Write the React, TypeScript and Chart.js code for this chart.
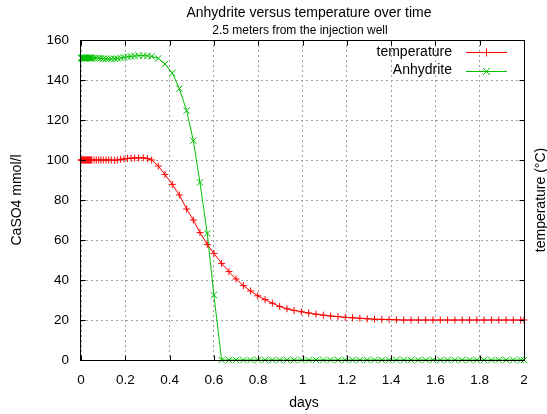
import React, { useEffect, useRef } from "react";
import { Chart, registerables } from "chart.js";

Chart.register(...registerables);

const TITLE = "Anhydrite versus temperature over time";
const SUBTITLE = "2.5 meters from the injection well";
const X_LABEL = "days";
const Y_LABEL = "CaSO4 mmol/l";
const Y2_LABEL = "temperature (°C)";
const SERIES_NAMES = ["temperature", "Anhydrite"];

const days = [
  0, 0.003, 0.006, 0.009, 0.012, 0.015, 0.018, 0.021, 0.024, 0.027, 0.03, 0.033, 0.036, 0.039, 0.042, 0.045, 0.048,
  0.059, 0.069, 0.08, 0.09, 0.101, 0.113, 0.125, 0.137, 0.152, 0.164, 0.179, 0.194, 0.21, 0.226, 0.242, 0.26, 0.281, 0.3, 0.319,
  0.349, 0.379, 0.412, 0.444, 0.477, 0.507, 0.537, 0.57, 0.6,
  0.635, 0.668, 0.7, 0.733, 0.766, 0.798, 0.831, 0.864, 0.897, 0.93,
  0.962, 0.995, 1.028, 1.061, 1.094, 1.127, 1.16, 1.193, 1.226, 1.259,
  1.292, 1.325, 1.358, 1.391, 1.424, 1.457, 1.49, 1.523, 1.556, 1.589,
  1.622, 1.655, 1.688, 1.721, 1.754, 1.787, 1.82, 1.853, 1.886, 1.919,
  1.952, 1.985, 2.0,
];

const temperature = [
  100, 100, 100, 100, 100, 100, 100, 100, 100, 100, 100, 100, 100, 100, 100, 100, 100,
  100, 100, 100, 100, 100, 100, 100, 100, 99.8, 100, 100.3, 100.5, 100.8, 100.9, 101, 101, 101.1, 100.7, 100,
  97, 92.8, 87.8, 82.5, 75.5, 70, 63.7, 57.8, 53.3,
  48.3, 44.2, 40.5, 37.2, 34.5, 32.1, 30.2, 28.4, 26.8, 25.6,
  24.8, 24.1, 23.5, 22.9, 22.4, 22, 21.7, 21.3, 21.1, 20.9,
  20.6, 20.4, 20.3, 20.3, 20.1, 20, 20, 20, 20, 20,
  20, 20, 20, 20, 20, 20, 20, 20, 20, 20,
  20, 20, 20,
];

const anhydrite = [
  151, 151, 151, 151, 151, 151, 151, 151, 151, 151, 151, 151, 151, 151, 151, 151, 151,
  151, 151, 150.9, 150.8, 150.7, 150.6, 150.5, 150.5, 150.6, 150.8, 151, 151.3, 151.6, 151.8, 152, 152.2, 152.2, 152.1, 151.8,
  150.8, 148, 143.5, 135.7, 124.7, 109.7, 88.8, 63.3, 32.5,
  0, 0, 0, 0, 0, 0, 0, 0, 0, 0,
  0, 0, 0, 0, 0, 0, 0, 0, 0, 0,
  0, 0, 0, 0, 0, 0, 0, 0, 0, 0,
  0, 0, 0, 0, 0, 0, 0, 0, 0, 0,
  0, 0, 0,
];

const X_MIN = 0;
const X_MAX = 2;
const X_STEP = 0.2;
const Y_MIN = 0;
const Y_MAX = 160;
const Y_STEP = 20;

const RED = "#ff0000";
const GREEN = "#00c000";
const GRID = "#a0a0a0";
const FONT = "'Liberation Sans', Arial, sans-serif";

const overlayPlugin = {
  id: "overlay",
  afterDraw(chart: any) {
    const { ctx, chartArea: a, scales } = chart;
    ctx.save();
    // border
    ctx.strokeStyle = "#000";
    ctx.lineWidth = 1;
    ctx.setLineDash([]);
    const L = Math.round(a.left) - 0.5;
    const R = Math.round(a.right) + 0.5;
    const T = Math.round(a.top) + 0.5;
    const B = Math.round(a.bottom) + 0.5;
    ctx.strokeRect(L, T, R - L, B - T);
    // inward ticks
    ctx.beginPath();
    scales.x.ticks.forEach((t: any) => {
      const px = Math.round(scales.x.getPixelForValue(t.value)) + 0.5;
      ctx.moveTo(px, B);
      ctx.lineTo(px, B - 5);
      ctx.moveTo(px, T);
      ctx.lineTo(px, T + 5);
    });
    scales.y.ticks.forEach((t: any) => {
      const py = Math.round(scales.y.getPixelForValue(t.value)) + 0.5;
      ctx.moveTo(L, py);
      ctx.lineTo(L + 5, py);
      ctx.moveTo(R, py);
      ctx.lineTo(R - 5, py);
    });
    ctx.stroke();

    // titles
    ctx.fillStyle = "#000";
    ctx.textAlign = "center";
    ctx.textBaseline = "middle";
    ctx.font = `14px ${FONT}`;
    ctx.fillText(TITLE, 309, 13.5);
    ctx.font = `12px ${FONT}`;
    ctx.fillText(SUBTITLE, 300, 30.5);
    ctx.font = `14px ${FONT}`;
    ctx.fillText(X_LABEL, (a.left + a.right) / 2 + 1.5, 403);
    ctx.save();
    ctx.translate(17, (a.top + a.bottom) / 2);
    ctx.rotate(-Math.PI / 2);
    ctx.fillText(Y_LABEL, 0, 0);
    ctx.restore();
    ctx.save();
    ctx.translate(541, (a.top + a.bottom) / 2);
    ctx.rotate(-Math.PI / 2);
    ctx.fillText(Y2_LABEL, 0, 0);
    ctx.restore();

    // legend
    const rows = [
      { name: SERIES_NAMES[0], color: RED, style: "plus", y: 52 },
      { name: SERIES_NAMES[1], color: GREEN, style: "x", y: 70.5 },
    ];
    ctx.textAlign = "right";
    rows.forEach((r) => {
      ctx.fillStyle = "#000";
      ctx.fillText(r.name, 452, r.y);
      ctx.strokeStyle = r.color;
      ctx.lineWidth = 1;
      const ly = Math.round(r.y) + 0.5;
      ctx.beginPath();
      ctx.moveTo(466, ly);
      ctx.lineTo(507, ly);
      if (r.style === "plus") {
        ctx.moveTo(486.5, ly - 4);
        ctx.lineTo(486.5, ly + 4);
      } else {
        ctx.moveTo(483, ly - 3.5);
        ctx.lineTo(490, ly + 3.5);
        ctx.moveTo(483, ly + 3.5);
        ctx.lineTo(490, ly - 3.5);
      }
      ctx.stroke();
    });
    ctx.restore();
  },
};

const fmt = (v: any) => String(Math.round(Number(v) * 10) / 10);

export default function App() {
  const ref = useRef<HTMLCanvasElement | null>(null);

  useEffect(() => {
    if (!ref.current) return;
    Chart.defaults.font.family = FONT;
    Chart.defaults.color = "#000";
    const tempPts = days.map((d, i) => ({ x: d, y: temperature[i] }));
    const anhPts = days.map((d, i) => ({ x: d, y: anhydrite[i] }));
    const chart = new Chart(ref.current, {
      type: "line",
      data: {
        datasets: [
          {
            label: SERIES_NAMES[0],
            data: tempPts,
            borderColor: RED,
            backgroundColor: RED,
            borderWidth: 1,
            pointStyle: "cross",
            pointRadius: 3.5,
            pointBorderWidth: 1,
            pointBorderColor: RED,
            tension: 0,
            clip: false as any,
          },
          {
            label: SERIES_NAMES[1],
            data: anhPts,
            borderColor: GREEN,
            backgroundColor: GREEN,
            borderWidth: 1,
            pointStyle: "crossRot",
            pointRadius: 4.5,
            pointBorderWidth: 1,
            pointBorderColor: GREEN,
            tension: 0,
            clip: false as any,
          },
        ],
      },
      options: {
        responsive: false,
        animation: false,
        events: [],
        layout: { padding: { top: 40, right: 23, left: 0, bottom: 0 } },
        plugins: {
          legend: { display: false },
          title: { display: false },
          tooltip: { enabled: false },
        },
        scales: {
          x: {
            type: "linear",
            min: X_MIN,
            max: X_MAX,
            ticks: { stepSize: X_STEP, padding: 12, font: { size: 13.5 }, color: "#000", maxRotation: 0, callback: fmt },
            grid: { color: GRID, drawTicks: false, borderDash: [2, 3] } as any,
            border: { display: false, dash: [2, 3] },
            afterFit: (s: any) => {
              s.height = 54;
            },
          },
          y: {
            type: "linear",
            min: Y_MIN,
            max: Y_MAX,
            ticks: { stepSize: Y_STEP, padding: 12, font: { size: 13.5 }, color: "#000", callback: fmt },
            grid: { color: GRID, drawTicks: false, borderDash: [2, 3] } as any,
            border: { display: false, dash: [2, 3] },
            afterFit: (s: any) => {
              s.width = 81;
            },
          },
        },
      },
      plugins: [overlayPlugin],
    });
    return () => chart.destroy();
  }, []);

  return (
    <div style={{ position: "absolute", left: 0, top: 0, width: 547, height: 414, background: "#fff" }}>
      <canvas ref={ref} width={547} height={414} style={{ display: "block" }} />
    </div>
  );
}
